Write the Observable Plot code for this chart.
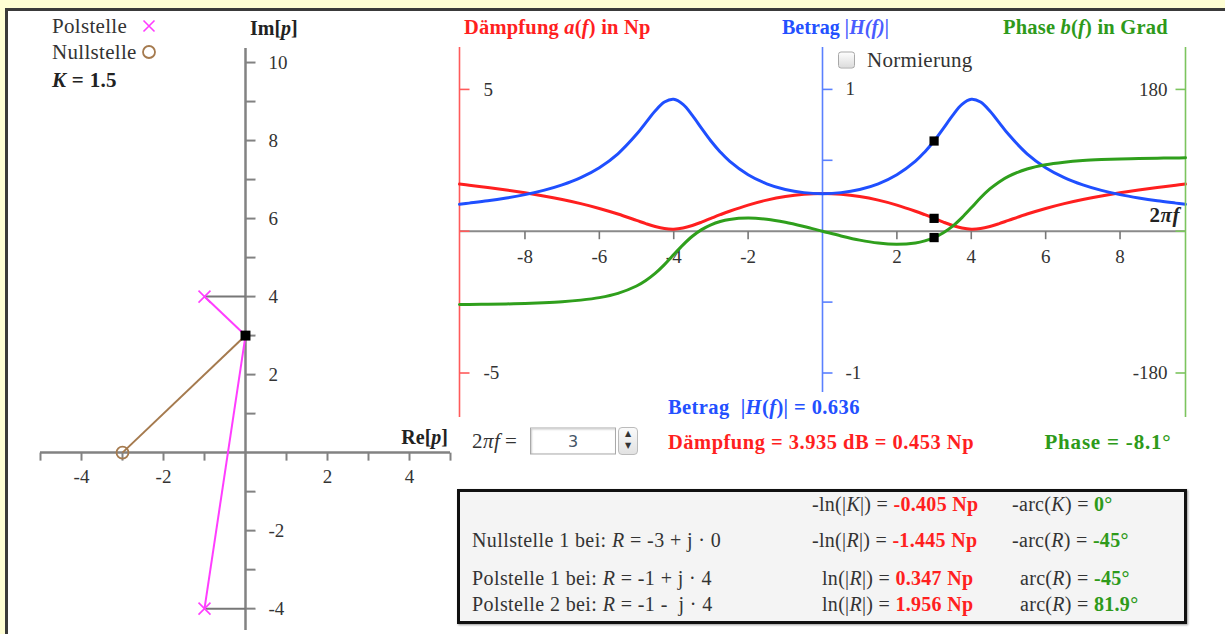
<!DOCTYPE html>
<html>
<head>
<meta charset="utf-8">
<script src="https://cdn.jsdelivr.net/npm/d3@7"></script>
<script src="https://cdn.jsdelivr.net/npm/@observablehq/plot@0.6"></script>
<style>
  html, body { margin: 0; padding: 0; }
  body { width: 1225px; height: 634px; background: #fefed4; position: relative; overflow: hidden;
         font-family: 'Liberation Serif', 'DejaVu Serif', serif; color: #333; }
  #panel { position: absolute; left: 5px; top: 8px; width: 1220px; height: 626px; background: #fff;
           border-top: 3px solid #3a3a3a; border-left: 3px solid #3a3a3a; box-sizing: border-box; }
  .abs { position: absolute; white-space: nowrap; line-height: 1; }
  .plot { position: absolute; }
  .b { font-weight: bold; }
  .red { color: #ff1f1f; }
  .blue { color: #2350ff; }
  .green { color: #2e9a1a; }
  #tbl { position: absolute; left: 457px; top: 489px; width: 730px; height: 135px; box-sizing: border-box;
         border: 3px solid #111; background: #f4f4f4; box-shadow: 1px 1px 2px #999; }
</style>
</head>
<body>
<div id="panel"></div>
<div id="root"></div>
<script>
// ---------- data ----------
const K = 1.5;
const poles = [{re: -1, im: 4}, {re: -1, im: -4}];
const zeros = [{re: -3, im: 0}];
const testPoint = [{re: 0, im: 3}];          // j·2πf with 2πf = 3
const reTicks = [-5, -4, -3, -2, -1, 1, 2, 3, 4, 5];
const reLabels = [-4, -2, 2, 4];
const imTicks = [-4, -3, -2, -1, 1, 2, 3, 4, 5, 6, 7, 8, 9, 10];
const imLabels = [-4, -2, 2, 4, 6, 8, 10];

const omega = [-9.76, -9.5, -9, -8.5, -8, -7.5, -7, -6.5, -6, -5.5, -5, -4.75, -4.5, -4.25, -4, -3.75, -3.5, -3.25, -3, -2.75, -2.5, -2, -1.5, -1, -0.5,
  0, 0.5, 1, 1.5, 2, 2.5, 2.75, 3, 3.25, 3.5, 3.75, 4, 4.25, 4.5, 4.75, 5, 5.5, 6, 6.5, 7, 7.5, 8, 8.5, 9, 9.5, 9.76];
const betrag = [0.190, 0.198, 0.214, 0.234, 0.258, 0.288, 0.327, 0.378, 0.448, 0.546, 0.683, 0.766, 0.848, 0.911, 0.930, 0.894, 0.817, 0.725, 0.636, 0.559, 0.494, 0.398, 0.334, 0.294, 0.272,
  0.265, 0.272, 0.294, 0.334, 0.398, 0.494, 0.559, 0.636, 0.725, 0.817, 0.894, 0.930, 0.911, 0.848, 0.766, 0.683, 0.546, 0.448, 0.378, 0.327, 0.288, 0.258, 0.234, 0.214, 0.198, 0.190];
const daempfung = [1.661, 1.622, 1.542, 1.453, 1.354, 1.244, 1.118, 0.973, 0.803, 0.606, 0.381, 0.267, 0.165, 0.093, 0.072, 0.112, 0.202, 0.321, 0.452, 0.582, 0.705, 0.922, 1.096, 1.224, 1.302,
  1.329, 1.302, 1.224, 1.096, 0.922, 0.705, 0.582, 0.452, 0.321, 0.202, 0.112, 0.072, 0.093, 0.165, 0.267, 0.381, 0.606, 0.803, 0.973, 1.118, 1.244, 1.354, 1.453, 1.542, 1.622, 1.661];
const phase = [-93.1, -93.0, -92.7, -92.3, -91.8, -90.9, -89.6, -87.5, -84.3, -78.9, -69.6, -62.6, -53.6, -42.4, -29.7, -17.3, -6.4, 2.0, 8.1, 12.3, 14.9, 16.6, 15.1, 11.3, 6.0,
  0, -6.0, -11.3, -15.1, -16.6, -14.9, -12.3, -8.1, -2.0, 6.4, 17.3, 29.7, 42.4, 53.6, 62.6, 69.6, 78.9, 84.3, 87.5, 89.6, 90.9, 91.8, 92.3, 92.7, 93.0, 93.1];
const freqTicks = [-8, -6, -4, -2, 2, 4, 6, 8];
const aTicks = [-5, 0, 5], aLabels = [-5, 5];
const hTicks = [-1, -0.5, 0.5, 1], hLabels = [-1, 1];
const bTicks = [-180, 0, 180], bLabels = [-180, 180];
const current = {w: 3, betrag: 0.636, daempfung: 0.453, phase: -8.1};

const tableLeft = ["", "Nullstelle 1 bei: <i>R</i> = -3 + j · 0", "Polstelle 1 bei: <i>R</i> = -1 + j · 4", "Polstelle 2 bei: <i>R</i> = -1 -&nbsp; j · 4"];
const tableLnLabel = ["-ln(|<i>K</i>|) = ", "-ln(|<i>R</i>|) = ", "ln(|<i>R</i>|) = ", "ln(|<i>R</i>|) = "];
const tableLnValue = ["-0.405 Np", "-1.445 Np", "0.347 Np", "1.956 Np"];
const tableArcLabel = ["-arc(<i>K</i>) = ", "-arc(<i>R</i>) = ", "arc(<i>R</i>) = ", "arc(<i>R</i>) = "];
const tableArcValue = ["0°", "-45°", "-45°", "81.9°"];

// ---------- helpers ----------
const FONT = "'Liberation Serif', 'DejaVu Serif', serif";
const root = document.getElementById("root");
function place(html, x, y, cls = "", style = "", anchor = "start") {
  const d = document.createElement("div");
  d.className = "abs " + cls;
  d.innerHTML = html;
  const tx = anchor === "end" ? "-100%" : anchor === "middle" ? "-50%" : "0";
  d.style.cssText = `left:${x}px;top:${y}px;transform:translate(${tx},-50%);` + style;
  root.appendChild(d);
  return d;
}
const tickDown = {draw(c) { c.moveTo(0, 0); c.lineTo(0, 8); }};
const tickRight = {draw(c) { c.moveTo(0, 0); c.lineTo(10, 0); }};
const tickLeft = {draw(c) { c.moveTo(0, 0); c.lineTo(-10, 0); }};
const fmt = d => String(d);

// ---------- pole-zero plot ----------
const MAG = "#ff3dff", BROWN = "#a57a4e", AX = "#828282";
const pz = Plot.plot({
  width: 460, height: 634, marginLeft: 40, marginRight: 10, marginTop: 48, marginBottom: 4,
  x: {domain: [-5, 5], axis: null},
  y: {domain: [-4.56, 10.36], axis: null},
  style: {background: "transparent", fontFamily: FONT, overflow: "visible"},
  marks: [
    Plot.ruleY([0], {stroke: AX, strokeWidth: 2.5}),
    Plot.ruleX([0], {stroke: AX, strokeWidth: 2.5}),
    Plot.dot(reTicks, {x: d => d, y: 0, symbol: tickDown, r: 1, fill: "none", stroke: AX, strokeWidth: 2}),
    Plot.dot(imTicks, {x: 0, y: d => d, symbol: tickRight, r: 1, fill: "none", stroke: AX, strokeWidth: 2}),
    Plot.text(reLabels, {x: d => d, y: 0, dy: 24, text: fmt, fontSize: 19, fill: "#333"}),
    Plot.text(imLabels, {x: 0, y: d => d, dx: 23, text: fmt, textAnchor: "start", fontSize: 19, fill: "#333"}),
    Plot.link(poles, {x1: "re", y1: "im", x2: 0, y2: "im", stroke: "#777", strokeWidth: 2}),
    Plot.link(poles, {x1: testPoint[0].re, y1: testPoint[0].im, x2: "re", y2: "im", stroke: MAG, strokeWidth: 2}),
    Plot.link(zeros, {x1: testPoint[0].re, y1: testPoint[0].im, x2: "re", y2: "im", stroke: BROWN, strokeWidth: 2}),
    Plot.dot(poles, {x: "re", y: "im", symbol: "times", r: 5.5, stroke: MAG, strokeWidth: 1.6}),
    Plot.dot(zeros, {x: "re", y: "im", symbol: "circle", r: 6, stroke: BROWN, fill: "none", strokeWidth: 1.8}),
    Plot.dot(testPoint, {x: "re", y: "im", symbol: "square", r: 5.6, fill: "#000"})
  ]
});
pz.classList.add("plot"); pz.style.left = "0px"; pz.style.top = "0px";
root.appendChild(pz);

// ---------- frequency response (three overlaid y scales) ----------
const freq = omega.map((w, i) => ({w, betrag: betrag[i], daempfung: daempfung[i], phase: phase[i]}));
const XD = [-9.76, 9.76];
const RED = "#ff1f1f", BLUE = "#1f4fff", GREEN = "#2f9f1c";
const RED_AX = "#ff5a5a", BLUE_AX = "#5a80ff", GREEN_AX = "#7cc45e";
function layer(yDomain, marks) {
  const p = Plot.plot({
    width: 760, height: 370, marginLeft: 19, marginRight: 15, marginTop: 0, marginBottom: 0,
    x: {domain: XD, axis: null}, y: {domain: yDomain, axis: null},
    style: {background: "transparent", fontFamily: FONT, overflow: "visible"},
    marks
  });
  p.classList.add("plot"); p.style.left = "440px"; p.style.top = "47px";
  root.appendChild(p);
}
const curve = "catmull-rom";
// Dämpfung layer (also carries the frequency axis)
layer([-6.569, 6.478], [
  Plot.ruleY([0], {stroke: "#8a8a8a", strokeWidth: 2}),
  Plot.dot(freqTicks, {x: d => d, y: 0, symbol: tickDown, r: 1, fill: "none", stroke: "#777", strokeWidth: 1.6}),
  Plot.text(freqTicks, {x: d => d, y: 0, dy: 26, text: fmt, fontSize: 19, fill: "#333"}),
  Plot.ruleX([XD[0]], {stroke: RED_AX, strokeWidth: 1.6}),
  Plot.dot(aTicks, {x: XD[0], y: d => d, symbol: tickRight, r: 1, fill: "none", stroke: RED_AX, strokeWidth: 1.6}),
  Plot.text(aLabels, {x: XD[0], y: d => d, dx: 24, text: fmt, textAnchor: "start", fontSize: 19, fill: "#333"}),
  Plot.line(freq, {x: "w", y: "daempfung", stroke: RED, strokeWidth: 3, curve}),
  Plot.dot([current], {x: "w", y: "daempfung", symbol: "square", r: 5.2, fill: "#000"})
]);
// Betrag layer
layer([-1.3138, 1.2955], [
  Plot.ruleX([0], {y1: -1.137, y2: 1.2955, stroke: BLUE_AX, strokeWidth: 1.6}),
  Plot.dot(hTicks, {x: 0, y: d => d, symbol: tickRight, r: 1, fill: "none", stroke: BLUE_AX, strokeWidth: 1.6}),
  Plot.text(hLabels, {x: 0, y: d => d, dx: 23, text: fmt, textAnchor: "start", fontSize: 19, fill: "#333"}),
  Plot.line(freq, {x: "w", y: "betrag", stroke: BLUE, strokeWidth: 3, curve}),
  Plot.dot([current], {x: "w", y: "betrag", symbol: "square", r: 5.2, fill: "#000"})
]);
// Phase layer
layer([-236.5, 233.2], [
  Plot.ruleX([XD[1]], {stroke: GREEN_AX, strokeWidth: 1.6}),
  Plot.dot(bTicks, {x: XD[1], y: d => d, symbol: tickLeft, r: 1, fill: "none", stroke: GREEN_AX, strokeWidth: 1.6}),
  Plot.text(bLabels, {x: XD[1], y: d => d, dx: -18, text: fmt, textAnchor: "end", fontSize: 19, fill: "#333"}),
  Plot.line(freq, {x: "w", y: "phase", stroke: GREEN, strokeWidth: 3, curve}),
  Plot.dot([current], {x: "w", y: "phase", symbol: "square", r: 5.2, fill: "#000"})
]);

// ---------- texts ----------
const svgTimes = `<svg width="14" height="14" style="vertical-align:middle;display:block"><path d="M1.5,1.5L12.5,12.5M12.5,1.5L1.5,12.5" stroke="${MAG}" stroke-width="1.6"/></svg>`;
const svgCirc = `<svg width="16" height="16" style="vertical-align:middle;display:block"><circle cx="8" cy="8" r="6" stroke="${BROWN}" stroke-width="1.8" fill="none"/></svg>`;
place("Polstelle", 52, 26, "", "font-size:21px;letter-spacing:0.3px;");
place(svgTimes, 142, 26, "");
place("Nullstelle", 52, 52, "", "font-size:21px;letter-spacing:0.3px;");
place(svgCirc, 141, 52, "");
place(`<i>K</i> = ${K}`, 52, 80, "b", "font-size:21px;letter-spacing:0.3px;color:#222;");
place("Im[<i>p</i>]", 250, 28, "b", "font-size:20px;color:#222;");
place("Re[<i>p</i>]", 448, 437, "b", "font-size:20px;color:#222;", "end");

place("Dämpfung <i>a</i>(<i>f</i>) in Np", 464, 27, "b red", "font-size:20.5px;letter-spacing:0.2px;");
place("Betrag <i style='font-weight:bold;color:#4a5cff'>|H(f)|</i>", 782, 27, "b blue", "font-size:20px;");
place("Phase <i>b</i>(<i>f</i>) in Grad", 1003, 27, "b green", "font-size:20.5px;letter-spacing:0.2px;");
place("", 838, 60, "", "width:15px;height:15px;border:1px solid #a8a8a8;border-radius:3px;background:linear-gradient(#fdfdfd,#dcdcdc);");
place("Normierung", 867, 60, "", "font-size:21px;letter-spacing:0.3px;color:#333;");
place("2<i>πf</i>", 1180, 215, "b", "font-size:21px;letter-spacing:0.5px;color:#222;", "end");

place(`Betrag &nbsp;|<i>H</i>(<i>f</i>)| = ${current.betrag}`, 668, 407, "b blue", "font-size:20.5px;letter-spacing:0.4px;");
place("2<i>πf</i>&thinsp;=", 472, 441, "", "font-size:21px;letter-spacing:0.5px;color:#333;");
place(String(current.w), 530, 441, "", "width:84px;height:25px;border:1px solid #a9a9a9;box-shadow:inset 1px 1px 2px #ccc;background:#fff;font-size:16px;color:#456;text-align:center;line-height:25px;font-family:'DejaVu Sans',sans-serif;");
place("<div style='font-size:8px;line-height:12px;text-align:center;color:#333'>▲<br>▼</div>", 618, 441, "", "width:18px;height:26px;border:1px solid #bbb;border-radius:4px;background:linear-gradient(#fafafa,#e2e2e2);font-family:'DejaVu Sans',sans-serif;");
place(`Dämpfung = 3.935 dB = ${current.daempfung} Np`, 668, 442, "b red", "font-size:20.5px;letter-spacing:0.5px;");
place(`Phase = ${current.phase}°`, 1108, 442, "b green", "font-size:21px;letter-spacing:0.8px;", "middle");

// ---------- table ----------
const tbl = document.createElement("div"); tbl.id = "tbl"; root.appendChild(tbl);
const rowY = [504, 540, 578, 604];
const lnX = [812, 812, 822, 822];
const arcX = [1012, 1012, 1020, 1020];
rowY.forEach((y, i) => {
  if (tableLeft[i]) place(tableLeft[i], 472, y, "", "font-size:20px;letter-spacing:0.4px;color:#333;");
  place(`${tableLnLabel[i]}<b class="red">${tableLnValue[i]}</b>`, lnX[i], y, "", "font-size:20px;letter-spacing:0.3px;color:#333;");
  place(`${tableArcLabel[i]}<b class="green">${tableArcValue[i]}</b>`, arcX[i], y, "", "font-size:20px;letter-spacing:0.3px;color:#333;");
});
</script>
</body>
</html>
